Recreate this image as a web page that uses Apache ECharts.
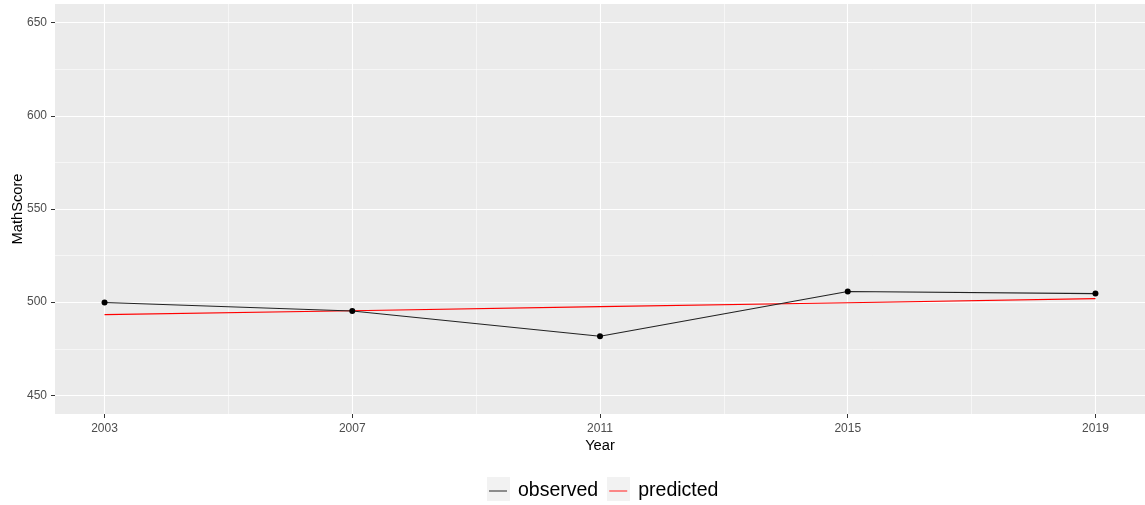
<!DOCTYPE html>
<html>
<head>
<meta charset="utf-8">
<script src="https://cdn.jsdelivr.net/npm/echarts@6/dist/echarts.min.js"></script>
<style>
  html, body { margin: 0; padding: 0; background: #ffffff; }
  #chart { width: 1145px; height: 505px; }
</style>
</head>
<body>
<div id="chart"></div>
<script>
// Survey years and scores
const years = [2003, 2007, 2011, 2015, 2019];
const observed = [499.8, 495.3, 481.7, 505.7, 504.6];
const predicted = [493.3, 495.4, 497.6, 499.7, 501.9];

// Axis breaks
const xMajor = [2003, 2007, 2011, 2015, 2019];
const xMinor = [2005, 2009, 2013, 2017];
const yMajor = [450, 500, 550, 600, 650];
const yMinor = [475, 525, 575, 625];

const FONT = '"Liberation Sans", Arial, sans-serif';

const chart = echarts.init(document.getElementById('chart'), null, { renderer: 'canvas' });

const gridLine = (axis, vals, width) => vals.map(v => ({
  [axis]: v,
  lineStyle: { color: '#ffffff', width: width, type: 'solid' }
}));

chart.setOption({
  animation: false,
  backgroundColor: '#ffffff',
  grid: {
    left: 55, right: 0, top: 4, bottom: 91,
    containLabel: false,
    outerBoundsMode: 'none',
    show: true, backgroundColor: '#ebebeb', borderWidth: 0
  },
  xAxis: {
    type: 'value',
    min: 2002.2, max: 2019.8,
    name: 'Year',
    nameLocation: 'middle',
    nameGap: 24,
    nameMoveOverlap: false,
    nameTextStyle: { fontFamily: FONT, fontSize: 14.7, color: '#000000' },
    axisLine: { show: false },
    splitLine: { show: false },
    axisTick: { show: true, length: 4, customValues: xMajor, lineStyle: { color: '#333333', width: 1 } },
    axisLabel: {
      customValues: xMajor, margin: 9,
      fontFamily: FONT, fontSize: 12, color: '#4d4d4d',
      formatter: v => String(v)
    }
  },
  yAxis: {
    type: 'value',
    min: 440, max: 660,
    name: 'MathScore',
    nameLocation: 'middle',
    nameGap: 30,
    nameRotate: 90,
    nameMoveOverlap: false,
    nameTextStyle: { fontFamily: FONT, fontSize: 14.7, color: '#000000' },
    axisLine: { show: false },
    splitLine: { show: false },
    axisTick: { show: true, length: 4, customValues: yMajor, lineStyle: { color: '#333333', width: 1 } },
    axisLabel: {
      customValues: yMajor, margin: 8,
      fontFamily: FONT, fontSize: 12, color: '#4d4d4d'
    }
  },
  legend: {
    left: 489, top: 479,
    padding: 0,
    itemGap: 11,
    icon: 'rect',
    itemWidth: 18, itemHeight: 1.3,
    textStyle: { fontFamily: FONT, fontSize: 19.5, color: '#000000', padding: [0, 0, 0, 6], lineHeight: 24 },
    data: [
      { name: 'observed', itemStyle: { color: '#555555' } },
      { name: 'predicted', itemStyle: { color: '#ff4d4d' } }
    ]
  },
  graphic: [
    { type: 'rect', z: -1, shape: { x: 487, y: 477, width: 23, height: 24 }, style: { fill: '#f2f2f2' } },
    { type: 'rect', z: -1, shape: { x: 607, y: 477, width: 23, height: 24 }, style: { fill: '#f2f2f2' } }
  ],
  series: [
    {
      // panel grid lines
      name: 'grid',
      type: 'line',
      data: [],
      silent: true,
      z: 0,
      markLine: {
        z: 0,
        silent: true,
        symbol: ['none', 'none'],
        label: { show: false },
        emphasis: { disabled: true },
        animation: false,
        data: [
          ...gridLine('xAxis', xMinor, 0.55),
          ...gridLine('yAxis', yMinor, 0.55),
          ...gridLine('xAxis', xMajor, 1.1),
          ...gridLine('yAxis', yMajor, 1.1)
        ]
      }
    },
    {
      name: 'observed',
      type: 'line',
      z: 3,
      data: years.map((y, i) => [y, observed[i]]),
      symbol: 'circle',
      symbolSize: 6,
      itemStyle: { color: '#000000', borderWidth: 0 },
      lineStyle: { color: '#222222', width: 1.1 },
      emphasis: { disabled: true }
    },
    {
      name: 'predicted',
      type: 'line',
      z: 2,
      data: years.map((y, i) => [y, predicted[i]]),
      showSymbol: false,
      symbol: 'none',
      itemStyle: { color: '#ff0000' },
      lineStyle: { color: '#ff0000', width: 1.1 },
      emphasis: { disabled: true }
    }
  ]
});
</script>
</body>
</html>
